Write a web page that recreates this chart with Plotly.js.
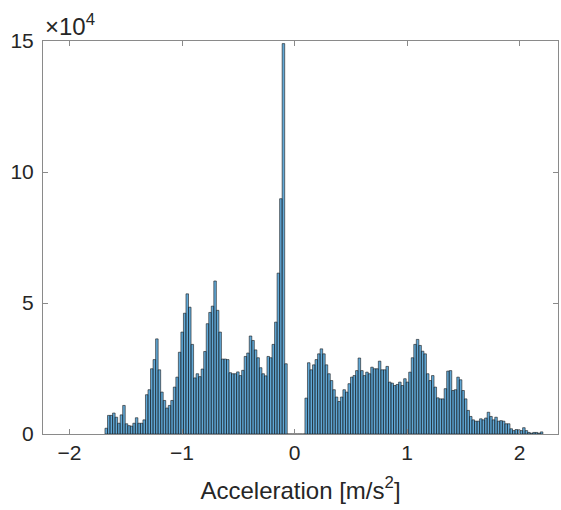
<!DOCTYPE html>
<html><head><meta charset="utf-8">
<script src="https://cdn.plot.ly/plotly-3.0.1.min.js"></script>
<style>html,body{margin:0;padding:0;background:#fff;} #chart{width:561px;height:510px;}</style>
</head><body><div id="chart"></div>
<script>
// Histogram bin edges (data units: m/s^2)
const binStart = -1.685;
const binWidth = 0.0225;
// Bin counts, in units of 10^4
const countsLeft = [0.22,0.71,0.71,0.80,0.64,0.41,0.73,1.09,0.39,0.32,0.30,0.41,0.62,0.41,0.41,0.54,
  1.50,1.69,2.49,2.84,3.63,2.45,1.60,1.28,0.99,1.09,1.28,1.79,2.17,3.12,3.89,4.61,5.35,4.84,3.42,2.14,
  2.30,2.19,2.48,3.15,4.21,4.64,4.88,5.84,4.72,3.89,2.86,2.86,2.84,2.34,2.30,2.30,2.37,2.23,2.43,2.96,
  3.09,3.74,3.57,3.21,2.91,2.53,2.30,2.22,2.96,2.91,3.42,4.27,6.14,8.98,14.9,2.68];
const countsGap = [0,0,0,0,0,0,0];
const countsRight = [1.37,2.72,2.45,2.64,2.84,3.06,3.25,3.06,2.64,2.30,2.04,1.69,1.41,1.24,1.41,1.69,
  1.60,1.92,2.17,2.23,2.42,2.90,2.42,2.23,2.36,2.30,2.55,2.49,2.49,2.78,2.45,2.45,2.58,1.98,1.94,1.85,
  1.89,1.98,1.85,2.11,1.98,2.36,2.91,3.42,3.61,3.38,3.16,3.06,2.30,2.04,2.23,1.79,1.38,1.34,1.34,1.73,
  2.40,2.42,1.66,1.69,2.17,2.07,1.66,1.34,0.90,0.67,0.54,0.49,0.49,0.58,0.54,0.61,0.83,0.67,0.54,0.64,
  0.49,0.51,0.49,0.39,0.39,0.20,0.13,0.17,0.16,0.13,0.24,0.13,0.06,0.03,0.06,0.06,0.03,0.08];
const xTickVals = [-2,-1,0,1,2];
const yTickVals = [0,5,10,15];
const xTitle = 'Acceleration [m/s<sup>2</sup>]';
const yExponent = '×10<sup>4</sup>';

const counts = countsLeft.concat(countsGap, countsRight);
const centers = counts.map((_, i) => binStart + (i + 0.5) * binWidth);

const fontFam = '"Liberation Sans", Arial, Helvetica, sans-serif';
const axisCol = '#8a8a8a';
const textCol = '#262626';

const trace = {
  type: 'bar',
  x: centers,
  y: counts,
  width: binWidth,
  marker: { color: 'rgba(0,114,189,0.62)', line: { color: '#1a1a1a', width: 0.6 } },
  hoverinfo: 'x+y'
};

const layout = {
  width: 561, height: 510,
  margin: { l: 43, r: 3, t: 41, b: 76, pad: 0 },
  paper_bgcolor: '#fff', plot_bgcolor: '#fff',
  showlegend: false,
  bargap: 0,
  font: { family: fontFam, color: textCol, size: 21 },
  xaxis: {
    range: [-2.236, 2.342],
    tickmode: 'array', tickvals: xTickVals,
    ticks: 'inside', ticklen: 5, tickwidth: 1, tickcolor: axisCol,
    showline: true, linecolor: axisCol, linewidth: 1, mirror: 'ticks',
    showgrid: false, zeroline: false,
    tickfont: { family: fontFam, size: 21, color: textCol },
    ticklabelstandoff: 0,
    title: { text: xTitle, font: { family: fontFam, size: 24, color: textCol }, standoff: 18 }
  },
  yaxis: {
    range: [0, 15],
    tickmode: 'array', tickvals: yTickVals,
    ticks: 'inside', ticklen: 5, tickwidth: 1, tickcolor: axisCol,
    showline: true, linecolor: axisCol, linewidth: 1, mirror: 'ticks',
    showgrid: false, zeroline: false,
    ticklabelstandoff: 4,
    tickfont: { family: fontFam, size: 21, color: textCol }
  },
  annotations: [{
    text: yExponent, xref: 'paper', yref: 'paper', x: 0, y: 1,
    xanchor: 'left', yanchor: 'bottom', showarrow: false, xshift: 0, yshift: -1,
    font: { family: fontFam, size: 24, color: textCol }
  }]
};

Plotly.newPlot('chart', [trace], layout, { displayModeBar: false, staticPlot: true });
</script>
</body></html>
